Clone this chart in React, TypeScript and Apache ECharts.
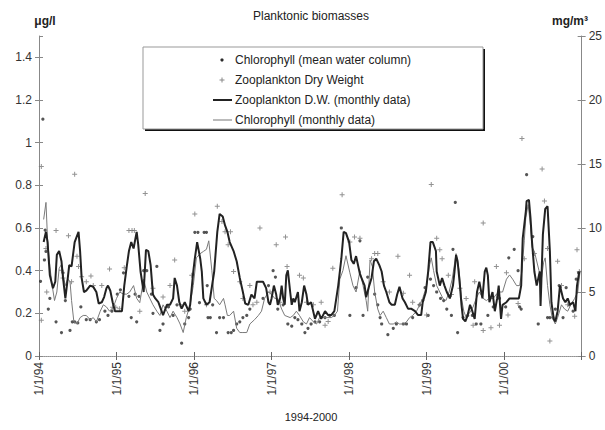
import React, { useEffect, useRef } from "react";
import * as echarts from "echarts";

// x values are decimal years (1994.5 = mid-1994)
const yearTicks = [1994, 1995, 1996, 1997, 1998, 1999, 2000, 2001];

// Chlorophyll, mean water column (µg/l, left axis)
const chlSamples: number[][] = [
  [1994.02,0.35],[1994.05,1.11],[1994.07,0.45],[1994.08,0.59],[1994.09,0.49],[1994.12,0.22],[1994.14,0.27],[1994.22,0.16],[1994.29,0.11],[1994.31,0.39],[1994.34,0.26],[1994.40,0.12],[1994.43,0.16],[1994.46,0.16],[1994.50,0.155],[1994.54,0.23],[1994.61,0.17],[1994.66,0.17],[1994.74,0.16],[1994.78,0.17],[1994.85,0.21],[1994.89,0.19],[1994.94,0.21],
  [1995.01,0.29],[1995.05,0.31],[1995.09,0.39],[1995.16,0.28],[1995.19,0.18],[1995.24,0.29],[1995.26,0.16],[1995.29,0.28],[1995.35,0.40],[1995.39,0.40],[1995.45,0.29],[1995.47,0.20],[1995.52,0.42],[1995.56,0.12],[1995.60,0.15],[1995.67,0.23],[1995.73,0.19],[1995.78,0.24],[1995.84,0.06],[1995.88,0.15],[1995.93,0.18],[1995.95,0.22],
  [1996.01,0.58],[1996.05,0.58],[1996.07,0.25],[1996.13,0.58],[1996.16,0.58],[1996.17,0.33],[1996.18,0.18],[1996.21,0.18],[1996.24,0.24],[1996.29,0.11],[1996.33,0.18],[1996.38,0.18],[1996.44,0.11],[1996.48,0.11],[1996.51,0.12],[1996.55,0.15],[1996.59,0.16],[1996.63,0.18],[1996.68,0.19],[1996.72,0.22],[1996.89,0.27],[1996.96,0.33],
  [1997.02,0.40],[1997.05,0.37],[1997.08,0.22],[1997.15,0.24],[1997.21,0.15],[1997.26,0.14],[1997.30,0.18],[1997.34,0.17],[1997.39,0.15],[1997.43,0.11],[1997.47,0.13],[1997.51,0.15],[1997.56,0.16],[1997.62,0.16],[1997.69,0.18],[1997.75,0.19],[1997.81,0.19],[1997.90,0.60],
  [1998.01,0.19],[1998.09,0.32],[1998.14,0.54],[1998.18,0.19],[1998.24,0.37],[1998.33,0.29],[1998.37,0.24],[1998.40,0.18],[1998.42,0.15],[1998.50,0.10],[1998.57,0.13],[1998.61,0.15],[1998.70,0.15],[1998.74,0.15],[1998.82,0.18],[1998.91,0.24],[1998.95,0.26],[1998.98,0.32],
  [1999.02,0.19],[1999.05,0.36],[1999.09,0.33],[1999.13,0.30],[1999.18,0.27],[1999.22,0.26],[1999.26,0.22],[1999.32,0.19],[1999.34,0.50],[1999.37,0.72],[1999.40,0.11],[1999.47,0.18],[1999.53,0.19],[1999.59,0.19],[1999.64,0.15],[1999.70,0.15],[1999.79,0.19],[1999.86,0.23],[1999.94,0.27],
  [2000.02,0.23],[2000.06,0.46],[2000.13,0.50],[2000.18,0.40],[2000.20,0.23],[2000.22,0.22],[2000.29,0.85],[2000.37,0.56],[2000.44,0.15],[2000.56,0.18],[2000.59,0.18],[2000.63,0.18],[2000.66,0.22],[2000.71,0.33],[2000.76,0.18],[2000.80,0.32],[2000.84,0.24],[2000.89,0.21],[2000.93,0.36],[2000.96,0.39],
];

// Zooplankton dry weight (mg/m3, right axis)
const zooSamples: number[][] = [
  [1994.03,14.8],[1994.03,2.8],[1994.09,8.4],[1994.10,5.0],[1994.22,9.8],[1994.29,6.7],[1994.31,6.1],[1994.38,9.4],[1994.42,5.8],[1994.46,14.2],[1994.49,7.8],[1994.51,7.0],[1994.55,6.2],[1994.61,5.8],[1994.67,6.25],[1994.70,5.5],[1994.81,5.5],[1994.91,6.8],[1994.95,3.8],[1994.99,3.8],
  [1995.04,3.7],[1995.10,6.9],[1995.16,9.8],[1995.20,9.8],[1995.23,9.8],[1995.30,3.5],[1995.37,12.7],[1995.47,5.3],[1995.60,4.6],[1995.69,5.5],[1995.75,7.5],[1995.82,4.0],[1995.88,3.5],[1995.97,6.3],
  [1996.01,11.1],[1996.16,4.0],[1996.30,11.7],[1996.36,10.5],[1996.40,9.7],[1996.44,8.7],[1996.47,9.7],[1996.51,6.6],[1996.59,5.8],[1996.63,4.5],[1996.72,5.5],[1996.76,4.0],[1996.81,4.2],[1996.85,10.0],[1996.98,5.0],
  [1997.06,8.7],[1997.11,4.2],[1997.18,9.3],[1997.20,7.0],[1997.36,6.3],[1997.41,6.1],[1997.45,4.2],[1997.54,4.0],[1997.64,4.2],[1997.69,2.4],[1997.73,2.7],[1997.79,6.85],[1997.91,12.6],
  [1998.01,8.9],[1998.07,9.3],[1998.14,9.2],[1998.29,7.6],[1998.33,8.0],[1998.37,8.0],[1998.44,5.8],[1998.52,5.0],[1998.63,7.8],[1998.70,4.9],[1998.78,6.3],[1998.82,4.2],[1998.91,4.0],
  [1999.00,3.2],[1999.06,13.4],[1999.13,9.2],[1999.17,8.3],[1999.20,7.6],[1999.28,6.3],[1999.32,4.8],[1999.43,5.3],[1999.51,4.5],[1999.60,2.4],[1999.62,5.8],[1999.73,10.4],[1999.73,2.0],[1999.83,2.2],[1999.90,7.0],[1999.94,2.4],
  [2000.03,6.5],[2000.05,3.2],[2000.18,4.1],[2000.23,17.0],[2000.26,7.6],[2000.39,8.0],[2000.49,14.6],[2000.52,12.1],[2000.56,8.4],[2000.59,1.17],[2000.69,7.4],[2000.74,5.5],[2000.82,4.0],[2000.91,3.1],[2000.94,8.3],[2000.97,6.6],
];

// Zooplankton D.W. monthly (mg/m3, right axis)
const zooMonthly: number[][] = [
  [1994.06,8.9],[1994.09,9.7],[1994.11,8.9],[1994.14,6.3],[1994.18,5.3],[1994.21,5.8],[1994.23,7.9],[1994.26,8.2],[1994.29,7.4],[1994.31,6.1],[1994.34,4.5],[1994.36,5.5],[1994.39,7.1],[1994.42,7.0],[1994.46,8.9],[1994.51,9.7],[1994.53,8.2],[1994.55,6.1],[1994.58,5.0],[1994.61,5.1],[1994.66,5.5],[1994.70,5.4],[1994.74,5.0],[1994.77,4.1],[1994.81,4.2],[1994.84,4.6],[1994.87,5.3],[1994.89,5.5],[1994.92,5.1],[1994.95,4.2],[1994.98,3.5],
  [1995.04,3.5],[1995.07,3.5],[1995.10,5.5],[1995.13,6.9],[1995.16,8.2],[1995.19,8.9],[1995.22,8.4],[1995.26,9.7],[1995.28,8.7],[1995.31,6.6],[1995.35,5.0],[1995.38,8.3],[1995.41,8.2],[1995.44,7.1],[1995.47,4.8],[1995.50,4.5],[1995.54,4.2],[1995.57,3.7],[1995.60,3.2],[1995.65,4.0],[1995.69,4.0],[1995.73,4.5],[1995.75,6.1],[1995.78,5.5],[1995.81,4.2],[1995.84,3.7],[1995.88,4.2],[1995.93,3.5],[1995.95,4.0],[1995.99,6.6],
  [1996.01,7.6],[1996.04,8.9],[1996.08,7.6],[1996.10,6.6],[1996.12,4.5],[1996.16,4.0],[1996.20,4.2],[1996.26,6.6],[1996.30,9.7],[1996.33,11.1],[1996.37,10.9],[1996.40,10.2],[1996.43,9.7],[1996.46,8.9],[1996.51,8.2],[1996.55,7.4],[1996.59,6.1],[1996.63,5.0],[1996.66,4.1],[1996.70,4.0],[1996.74,4.8],[1996.78,4.5],[1996.81,5.8],[1996.85,5.8],[1996.89,5.8],[1996.93,5.3],[1996.96,4.2],[1996.98,4.0],
  [1997.00,4.5],[1997.03,5.5],[1997.06,4.8],[1997.08,4.0],[1997.11,4.5],[1997.13,5.5],[1997.15,4.5],[1997.17,4.0],[1997.19,6.3],[1997.21,6.7],[1997.24,5.0],[1997.26,4.0],[1997.28,4.5],[1997.30,4.2],[1997.34,5.0],[1997.36,3.5],[1997.39,4.2],[1997.42,5.5],[1997.45,4.8],[1997.47,4.0],[1997.51,4.2],[1997.56,2.9],[1997.60,3.5],[1997.64,2.9],[1997.69,3.5],[1997.73,3.2],[1997.77,3.2],[1997.81,3.5],[1997.86,5.5],[1997.90,7.6],[1997.93,9.7],[1997.96,9.6],
  [1998.00,8.9],[1998.03,7.5],[1998.06,7.2],[1998.09,7.8],[1998.14,6.4],[1998.20,5.5],[1998.22,4.6],[1998.26,5.5],[1998.29,6.1],[1998.32,7.4],[1998.35,7.6],[1998.39,7.1],[1998.42,6.6],[1998.45,5.5],[1998.48,5.0],[1998.52,4.2],[1998.55,4.0],[1998.59,4.0],[1998.62,4.8],[1998.65,5.4],[1998.69,4.5],[1998.72,4.2],[1998.76,3.7],[1998.80,3.7],[1998.85,3.5],[1998.89,3.2],[1998.93,3.2],[1998.95,4.2],[1998.99,5.0],
  [1999.02,6.6],[1999.05,8.9],[1999.08,8.9],[1999.12,8.2],[1999.13,6.6],[1999.17,5.5],[1999.20,6.1],[1999.23,5.5],[1999.26,5.0],[1999.30,4.5],[1999.32,5.0],[1999.34,5.5],[1999.36,6.6],[1999.38,7.9],[1999.40,7.4],[1999.43,5.5],[1999.45,4.0],[1999.47,2.9],[1999.50,2.7],[1999.53,3.2],[1999.56,4.0],[1999.59,3.5],[1999.62,2.9],[1999.65,5.0],[1999.68,5.8],[1999.72,4.5],[1999.75,6.6],[1999.77,6.9],[1999.79,6.3],[1999.81,4.2],[1999.85,5.0],[1999.88,3.5],[1999.91,4.5],[1999.93,5.5],[1999.96,2.9],[1999.98,4.0],
  [2000.03,4.2],[2000.07,4.5],[2000.11,4.5],[2000.16,4.5],[2000.19,4.5],[2000.22,5.5],[2000.24,9.2],[2000.28,11.3],[2000.29,12.1],[2000.32,12.2],[2000.34,10.8],[2000.36,8.9],[2000.39,6.6],[2000.42,5.5],[2000.46,6.6],[2000.47,3.9],[2000.50,9.5],[2000.53,11.5],[2000.56,11.7],[2000.59,8.2],[2000.61,4.2],[2000.64,2.9],[2000.66,2.7],[2000.69,3.5],[2000.72,5.5],[2000.76,4.5],[2000.79,4.2],[2000.82,4.5],[2000.85,4.0],[2000.89,4.2],[2000.92,3.5],[2000.94,5.5],[2000.97,6.6],
];

// Chlorophyll monthly (µg/l, left axis)
const chlMonthly: number[][] = [
  [1994.06,0.64],[1994.09,0.72],[1994.11,0.55],[1994.14,0.42],[1994.17,0.33],[1994.20,0.26],[1994.23,0.30],[1994.26,0.41],[1994.29,0.43],[1994.31,0.38],[1994.34,0.33],[1994.37,0.36],[1994.40,0.35],[1994.42,0.26],[1994.45,0.16],[1994.49,0.15],[1994.53,0.18],[1994.57,0.19],[1994.61,0.19],[1994.66,0.17],[1994.70,0.18],[1994.74,0.16],[1994.79,0.21],[1994.83,0.24],[1994.87,0.23],[1994.91,0.21],[1994.96,0.23],
  [1995.00,0.27],[1995.04,0.30],[1995.09,0.29],[1995.13,0.29],[1995.17,0.30],[1995.22,0.33],[1995.26,0.27],[1995.30,0.25],[1995.35,0.36],[1995.39,0.30],[1995.43,0.27],[1995.47,0.24],[1995.52,0.21],[1995.56,0.19],[1995.60,0.24],[1995.65,0.21],[1995.69,0.18],[1995.73,0.21],[1995.78,0.18],[1995.82,0.15],[1995.86,0.11],[1995.90,0.18],[1995.95,0.24],[1995.99,0.33],
  [1996.03,0.46],[1996.08,0.48],[1996.12,0.49],[1996.16,0.50],[1996.19,0.54],[1996.23,0.40],[1996.26,0.27],[1996.29,0.26],[1996.33,0.24],[1996.38,0.27],[1996.40,0.24],[1996.43,0.19],[1996.46,0.19],[1996.51,0.21],[1996.55,0.13],[1996.59,0.11],[1996.63,0.11],[1996.68,0.11],[1996.72,0.15],[1996.78,0.17],[1996.83,0.19],[1996.87,0.21],[1996.91,0.27],[1996.96,0.30],
  [1997.00,0.29],[1997.04,0.27],[1997.08,0.27],[1997.13,0.22],[1997.17,0.19],[1997.24,0.18],[1997.28,0.19],[1997.32,0.21],[1997.36,0.19],[1997.41,0.16],[1997.45,0.15],[1997.49,0.18],[1997.54,0.16],[1997.58,0.15],[1997.62,0.18],[1997.66,0.18],[1997.71,0.18],[1997.77,0.18],[1997.81,0.19],[1997.85,0.21],[1997.88,0.36],[1997.92,0.40],[1997.96,0.47],
  [1998.01,0.39],[1998.05,0.33],[1998.09,0.30],[1998.14,0.40],[1998.18,0.33],[1998.22,0.26],[1998.24,0.21],[1998.27,0.45],[1998.30,0.42],[1998.33,0.30],[1998.37,0.22],[1998.40,0.19],[1998.44,0.21],[1998.48,0.18],[1998.52,0.15],[1998.57,0.15],[1998.61,0.16],[1998.65,0.15],[1998.70,0.15],[1998.74,0.16],[1998.78,0.18],[1998.82,0.19],[1998.87,0.21],[1998.91,0.24],[1998.95,0.27],
  [1999.00,0.33],[1999.04,0.43],[1999.06,0.46],[1999.09,0.40],[1999.13,0.33],[1999.17,0.30],[1999.21,0.27],[1999.25,0.26],[1999.29,0.30],[1999.33,0.36],[1999.38,0.48],[1999.42,0.40],[1999.45,0.27],[1999.48,0.21],[1999.51,0.18],[1999.55,0.20],[1999.60,0.23],[1999.64,0.27],[1999.68,0.30],[1999.73,0.27],[1999.77,0.26],[1999.81,0.27],[1999.86,0.27],[1999.90,0.29],[1999.94,0.30],[1999.98,0.30],
  [2000.03,0.36],[2000.07,0.38],[2000.11,0.36],[2000.16,0.33],[2000.20,0.33],[2000.23,0.40],[2000.26,0.54],[2000.28,0.65],[2000.31,0.71],[2000.34,0.61],[2000.36,0.51],[2000.39,0.49],[2000.41,0.46],[2000.45,0.40],[2000.48,0.36],[2000.51,0.44],[2000.53,0.46],[2000.56,0.33],[2000.59,0.24],[2000.62,0.18],[2000.66,0.15],[2000.69,0.18],[2000.74,0.24],[2000.78,0.22],[2000.82,0.21],[2000.86,0.24],[2000.91,0.27],[2000.95,0.30],[2000.98,0.40],
];

const seriesNames = [
  "Chlorophyll (mean water column)",
  "Zooplankton Dry Weight",
  "Zooplankton D.W. (monthly data)",
  "Chlorophyll (monthly data)",
];

const FONT = "'Liberation Sans', Arial, sans-serif";
const PLUS = "path://M2,0H3V2H5V3H3V5H2V3H0V2H2Z";

export default function App() {
  const ref = useRef<HTMLDivElement>(null);
  useEffect(() => {
    document.body.style.margin = "0";
    if (!ref.current) return;
    const chart = echarts.init(ref.current, undefined, { renderer: "svg" });
    const xMin = yearTicks[0];
    const xMax = yearTicks[yearTicks.length - 1];
    const baseX = { type: "value", min: xMin, max: xMax, interval: 1, gridIndex: 0, splitLine: { show: false } };
    const legendRows = [60, 80, 100, 120];
    const mx = 222;
    const option: any = {
      animation: false,
      backgroundColor: "#fff",
      grid: { left: 39, right: 23, top: 36, bottom: 74 },
      xAxis: [
        {
          ...baseX,
          position: "bottom",
          axisLine: { show: true, lineStyle: { color: "#666", width: 1 } },
          axisTick: { show: true, length: 4, lineStyle: { color: "#666" } },
          axisLabel: {
            rotate: 90,
            margin: 6,
            fontFamily: FONT,
            fontSize: 12,
            color: "#333",
            formatter: (v: number) => (v >= xMax ? "" : "1/1/" + String(Math.round(v)).slice(2)),
          },
        },
        {
          ...baseX,
          position: "top",
          axisLine: { show: true, lineStyle: { color: "#aaa", width: 1, type: "dotted" } },
          axisTick: { show: false },
          axisLabel: { show: false },
        },
        {
          ...baseX,
          position: "bottom",
          axisLine: { show: false },
          axisTick: { show: true, inside: true, length: 4, lineStyle: { color: "#666" } },
          axisLabel: { show: false },
        },
      ],
      yAxis: [
        {
          type: "value", min: 0, max: 1.5, interval: 0.2, position: "left",
          splitLine: { show: false },
          axisLine: { show: true, lineStyle: { color: "#888" } },
          axisTick: { show: true, length: 4, lineStyle: { color: "#888" } },
          axisLabel: {
            fontFamily: FONT, fontSize: 12, color: "#333", margin: 7, showMaxLabel: false,
            formatter: (v: number) => (v > 1.45 ? "" : String(Math.round(v * 10) / 10)),
          },
        },
        {
          type: "value", min: 0, max: 1.5, interval: 0.2, position: "left",
          splitLine: { show: false }, axisLine: { show: false },
          axisTick: { show: true, inside: true, length: 4, lineStyle: { color: "#888" } },
          axisLabel: { show: false },
        },
        {
          type: "value", min: 0, max: 25, interval: 5, position: "right",
          splitLine: { show: false },
          axisLine: { show: true, lineStyle: { color: "#888" } },
          axisTick: { show: true, length: 4, lineStyle: { color: "#888" } },
          axisLabel: { fontFamily: FONT, fontSize: 12, color: "#333", margin: 7 },
        },
        {
          type: "value", min: 0, max: 25, interval: 5, position: "right",
          splitLine: { show: false }, axisLine: { show: false },
          axisTick: { show: true, inside: true, length: 4, lineStyle: { color: "#888" } },
          axisLabel: { show: false },
        },
      ],
      series: [
        {
          name: seriesNames[0], type: "scatter", xAxisIndex: 0, yAxisIndex: 0,
          symbol: "circle", symbolSize: 3.2, itemStyle: { color: "#2a2a2a" }, data: chlSamples, z: 3,
        },
        {
          name: seriesNames[1], type: "scatter", xAxisIndex: 0, yAxisIndex: 2,
          symbol: PLUS, symbolSize: 5, itemStyle: { color: "#777" }, data: zooSamples, z: 3,
        },
        {
          name: seriesNames[3], type: "line", xAxisIndex: 0, yAxisIndex: 0,
          showSymbol: false, lineStyle: { color: "#7a7a7a", width: 1 }, data: chlMonthly, z: 4,
        },
        {
          name: seriesNames[2], type: "line", xAxisIndex: 0, yAxisIndex: 2,
          showSymbol: false, lineStyle: { color: "#222", width: 2 }, data: zooMonthly, z: 5,
        },
      ],
      graphic: [
        { type: "text", x: 311, y: 16, style: { text: "Planktonic biomasses", font: `12px ${FONT}`, fill: "#222", align: "center", verticalAlign: "middle" } },
        { type: "text", x: 45, y: 21, style: { text: "μg/l", font: `bold 12px ${FONT}`, fill: "#222", align: "center", verticalAlign: "middle" } },
        { type: "text", x: 570, y: 21, style: { text: "mg/m³", font: `bold 12px ${FONT}`, fill: "#222", align: "center", verticalAlign: "middle" } },
        { type: "text", x: 311, y: 417, style: { text: "1994-2000", font: `11px ${FONT}`, fill: "#222", align: "center", verticalAlign: "middle" } },
        {
          type: "group", z: 100,
          children: [
            { type: "rect", shape: { x: 145, y: 49, width: 340, height: 82 }, style: { fill: "#111" } },
            { type: "rect", shape: { x: 143, y: 47, width: 340, height: 82 }, style: { fill: "#fff", stroke: "#999", lineWidth: 1 } },
            { type: "circle", shape: { cx: mx, cy: legendRows[0], r: 1.6 }, style: { fill: "#2a2a2a" } },
            { type: "line", shape: { x1: mx - 2.5, y1: legendRows[1], x2: mx + 2.5, y2: legendRows[1] }, style: { stroke: "#888", lineWidth: 1 } },
            { type: "line", shape: { x1: mx, y1: legendRows[1] - 2.5, x2: mx, y2: legendRows[1] + 2.5 }, style: { stroke: "#888", lineWidth: 1 } },
            { type: "line", shape: { x1: 213, y1: legendRows[2], x2: 232, y2: legendRows[2] }, style: { stroke: "#222", lineWidth: 2 } },
            { type: "line", shape: { x1: 213, y1: legendRows[3], x2: 232, y2: legendRows[3] }, style: { stroke: "#777", lineWidth: 1 } },
            ...seriesNames.map((n, i) => ({
              type: "text", x: 235, y: legendRows[i],
              style: { text: n, font: `12px ${FONT}`, fill: "#222", verticalAlign: "middle" },
            })),
          ],
        },
      ],
    };
    chart.setOption(option);
    return () => chart.dispose();
  }, []);
  return <div ref={ref} style={{ width: 605, height: 430 }} />;
}
